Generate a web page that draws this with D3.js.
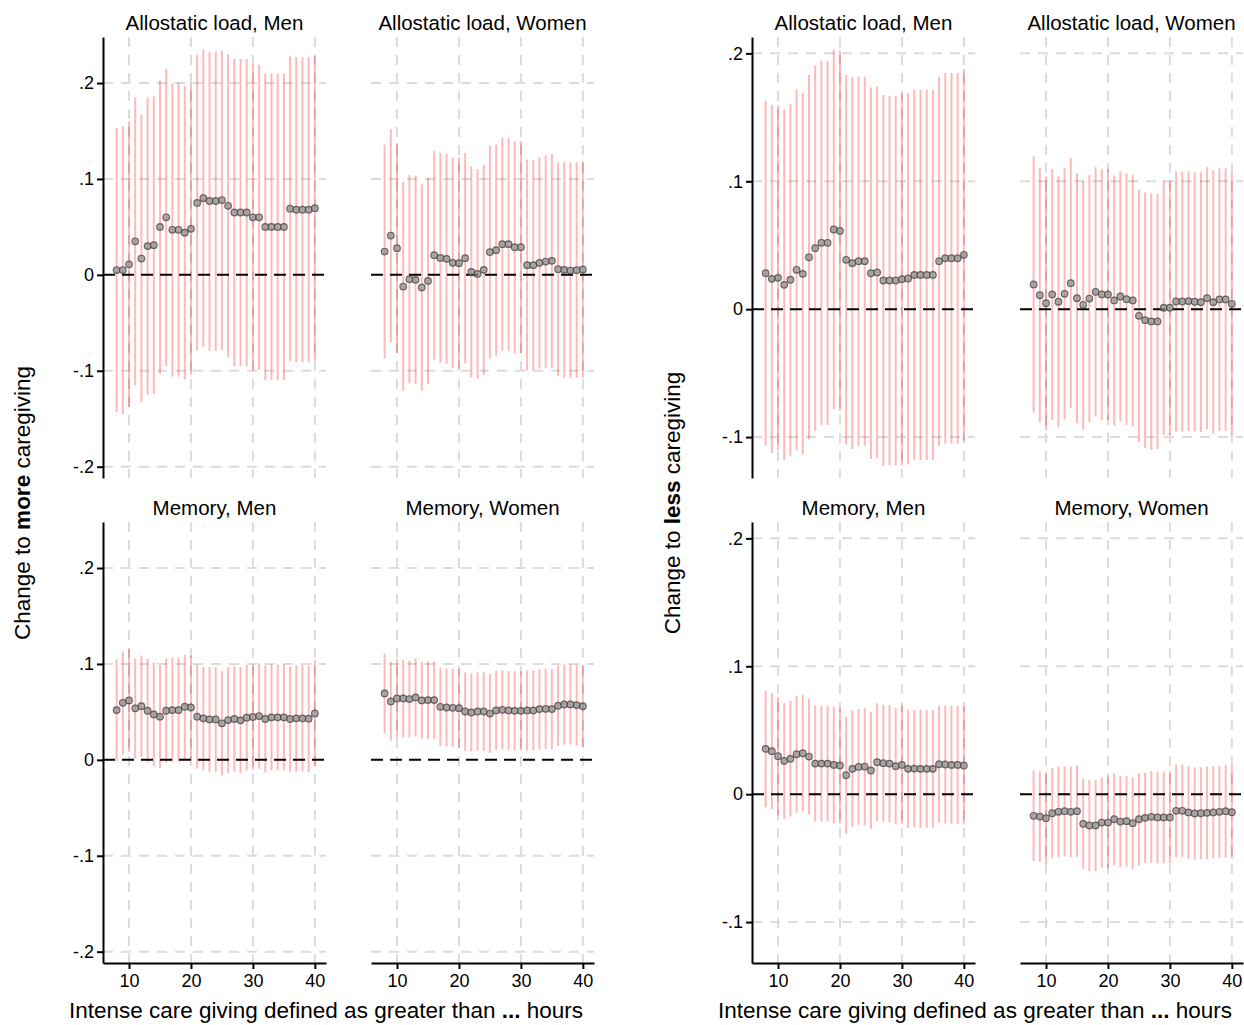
<!DOCTYPE html>
<html>
<head>
<meta charset="utf-8">
<script src="https://cdn.jsdelivr.net/npm/d3@7"></script>
<style>
  body { margin: 0; background: #fff; }
  text { font-family: "Liberation Sans", Arial, Helvetica, sans-serif; fill: #000; }
</style>
</head>
<body>
<svg id="chart" width="1244" height="1025"></svg>
<script>
const hours = [8, 9, 10, 11, 12, 13, 14, 15, 16, 17, 18, 19, 20, 21, 22, 23, 24,
  25, 26, 27, 28, 29, 30, 31, 32, 33, 34, 35, 36, 37, 38, 39, 40];

// change to more caregiving: point estimates and CI half-widths
const moreAlloMen = [0.005, 0.005, 0.011, 0.035, 0.017, 0.030, 0.031, 0.050, 0.060, 0.047, 0.047,
  0.044, 0.048, 0.075, 0.080, 0.077, 0.077, 0.078, 0.072, 0.065, 0.065, 0.065, 0.060, 0.060,
  0.050, 0.050, 0.050, 0.050, 0.069, 0.068, 0.068, 0.068, 0.0695];
const moreAlloMenCI = [0.148, 0.150, 0.149, 0.150, 0.150, 0.155, 0.155, 0.153, 0.155, 0.153, 0.153,
  0.153, 0.152, 0.154, 0.155, 0.156, 0.156, 0.156, 0.158, 0.160, 0.160, 0.160, 0.160, 0.159,
  0.160, 0.160, 0.160, 0.160, 0.159, 0.159, 0.159, 0.159, 0.159];
const moreAlloWomen = [0.0243, 0.041, 0.0278, -0.0122, -0.0045, -0.0052, -0.0132, -0.0063, 0.0205,
  0.0177, 0.0167, 0.0125, 0.0122, 0.0174, 0.0031, 0.001, 0.0052, 0.0236, 0.0257, 0.032, 0.032,
  0.0288, 0.0288, 0.0101, 0.0101, 0.0125, 0.0139, 0.0146, 0.0059, 0.0052, 0.0045, 0.0049, 0.0056];
const moreAlloWomenCI = [0.1115, 0.111, 0.1094, 0.1089, 0.1085, 0.1085, 0.1076, 0.1073, 0.1089,
  0.1094, 0.1094, 0.1097, 0.110, 0.1097, 0.110, 0.1094, 0.1097, 0.111, 0.110, 0.111, 0.111,
  0.1106, 0.1106, 0.110, 0.1097, 0.110, 0.1108, 0.1115, 0.1115, 0.1127, 0.1123, 0.1123, 0.1128];
const moreMemMen = [0.0519, 0.0595, 0.062, 0.0537, 0.056, 0.0512, 0.0474, 0.045, 0.0512, 0.0519,
  0.0519, 0.0554, 0.0547, 0.045, 0.0433, 0.0422, 0.0422, 0.0381, 0.0415, 0.0426, 0.0412, 0.044,
  0.0447, 0.0457, 0.0426, 0.0443, 0.0443, 0.0443, 0.0426, 0.0433, 0.0433, 0.0429, 0.0484];
const moreMemMenCI = [0.0528, 0.0537, 0.0537, 0.0524, 0.0528, 0.0542, 0.054, 0.0537, 0.0542,
  0.0542, 0.0542, 0.0542, 0.054, 0.0543, 0.054, 0.0545, 0.0545, 0.0545, 0.0549, 0.055, 0.0554,
  0.0549, 0.0549, 0.055, 0.0557, 0.0552, 0.0552, 0.0552, 0.0549, 0.0554, 0.0554, 0.0556, 0.0554];
const moreMemWomen = [0.0693, 0.0609, 0.0641, 0.0641, 0.0634, 0.0651, 0.062, 0.0623, 0.0623,
  0.0553, 0.0546, 0.0543, 0.0539, 0.0504, 0.0494, 0.0504, 0.0504, 0.0483, 0.0515, 0.0522, 0.0515,
  0.0511, 0.0511, 0.0515, 0.0515, 0.0529, 0.0532, 0.0529, 0.0564, 0.0578, 0.0578, 0.0571, 0.056];
const moreMemWomenCI = [0.0415, 0.041, 0.041, 0.0403, 0.040, 0.0407, 0.0403, 0.0405, 0.0405,
  0.0407, 0.0407, 0.0407, 0.0412, 0.041, 0.0408, 0.041, 0.041, 0.0412, 0.0412, 0.0412, 0.041,
  0.0414, 0.0414, 0.0417, 0.0419, 0.0419, 0.0419, 0.0419, 0.0419, 0.0419, 0.0419, 0.0422, 0.0428];

// change to less caregiving
const lessAlloMen = [0.0281, 0.0237, 0.0245, 0.019, 0.023, 0.0308, 0.0276, 0.0406, 0.0477, 0.0519,
  0.0519, 0.0623, 0.0612, 0.0386, 0.036, 0.0375, 0.0375, 0.0281, 0.0287, 0.0224, 0.0224, 0.0224,
  0.0234, 0.024, 0.0268, 0.0268, 0.0268, 0.0268, 0.0375, 0.0398, 0.0398, 0.0398, 0.0425];
const lessAlloMenCI = [0.1349, 0.1362, 0.1346, 0.137, 0.1375, 0.1409, 0.1414, 0.1424, 0.1427,
  0.1424, 0.1424, 0.1404, 0.1409, 0.1445, 0.1453, 0.1443, 0.1443, 0.1453, 0.1453, 0.145, 0.1445,
  0.1445, 0.1453, 0.1453, 0.1448, 0.1448, 0.1448, 0.1448, 0.1443, 0.1448, 0.1448, 0.1448, 0.1453];
const lessAlloWomen = [0.0193, 0.0109, 0.0047, 0.0115, 0.0058, 0.012, 0.0203, 0.0086, 0.0034,
  0.0083, 0.0136, 0.0115, 0.0115, 0.0068, 0.0099, 0.0078, 0.0068, -0.0052, -0.0086, -0.0096,
  -0.0096, 0.0011, 0.0011, 0.006, 0.006, 0.0063, 0.0058, 0.0055, 0.0086, 0.0055, 0.0076, 0.0076, 0.0042];
const lessAlloWomenCI = [0.100, 0.0995, 0.0992, 0.0982, 0.0982, 0.0982, 0.0979, 0.0977, 0.0971,
  0.0966, 0.0974, 0.0982, 0.0982, 0.0977, 0.0979, 0.0984, 0.0982, 0.0987, 0.100, 0.1003, 0.0997,
  0.0995, 0.0995, 0.1016, 0.1016, 0.1016, 0.1013, 0.1016, 0.1023, 0.1029, 0.1026, 0.1026, 0.1023];
const lessMemMen = [0.0354, 0.0336, 0.0297, 0.026, 0.0276, 0.0312, 0.032, 0.0294, 0.0239, 0.0239,
  0.0239, 0.0229, 0.0224, 0.0148, 0.0198, 0.0213, 0.0216, 0.0185, 0.025, 0.0242, 0.0239, 0.0219,
  0.0229, 0.0198, 0.02, 0.0198, 0.0198, 0.0198, 0.0234, 0.0232, 0.0229, 0.0229, 0.0224];
const lessMemMenCI = [0.0456, 0.0453, 0.0461, 0.0453, 0.0451, 0.0458, 0.0456, 0.0451, 0.0453,
  0.0453, 0.0453, 0.0456, 0.0451, 0.0458, 0.0456, 0.0453, 0.0456, 0.0456, 0.0461, 0.0458, 0.0458,
  0.0456, 0.0464, 0.0461, 0.0458, 0.0461, 0.0461, 0.0461, 0.0458, 0.0461, 0.0461, 0.0461, 0.0461];
const lessMemWomen = [-0.0169, -0.0175, -0.0188, -0.0149, -0.0138, -0.0133, -0.0138, -0.0133,
  -0.0232, -0.0245, -0.0245, -0.0222, -0.0222, -0.0196, -0.0214, -0.0211, -0.0227, -0.0196,
  -0.0185, -0.0177, -0.0182, -0.0182, -0.0182, -0.013, -0.013, -0.0143, -0.0151, -0.0149,
  -0.0146, -0.0143, -0.0138, -0.0133, -0.0141];
const lessMemWomenCI = [0.0354, 0.0354, 0.0359, 0.0352, 0.0354, 0.0354, 0.0354, 0.0357, 0.0352,
  0.0357, 0.0357, 0.0352, 0.0359, 0.0359, 0.0357, 0.0354, 0.0359, 0.0359, 0.0354, 0.0359, 0.0359,
  0.0359, 0.0359, 0.0362, 0.0362, 0.0362, 0.0362, 0.0359, 0.0362, 0.0359, 0.0359, 0.0362, 0.0362];

const subplotTitles = [['Allostatic load, Men', 'Allostatic load, Women'], ['Memory, Men', 'Memory, Women']];
const xTicks = [10, 20, 30, 40];

const panels = [
  {
    left: 103, ylabelX: 22, xTitleX: 326, bold: 'more',
    yDomain: [-0.2118, 0.248], yTicks: [-0.2, -0.1, 0, 0.1, 0.2],
    series: [[[moreAlloMen, moreAlloMenCI], [moreAlloWomen, moreAlloWomenCI]],
             [[moreMemMen, moreMemMenCI], [moreMemWomen, moreMemWomenCI]]],
  },
  {
    left: 752, ylabelX: 672, xTitleX: 975, bold: 'less',
    yDomain: [-0.132, 0.2128], yTicks: [-0.1, 0, 0.1, 0.2],
    series: [[[lessAlloMen, lessAlloMenCI], [lessAlloWomen, lessAlloWomenCI]],
             [[lessMemMen, lessMemMenCI], [lessMemWomen, lessMemWomenCI]]],
  },
];

const svg = d3.select('#chart');
const plotW = 223;
const colGap = 268;
const rows = [[37, 478], [522, 963]];
const fontFam = '"Liberation Sans", Arial, sans-serif';

// Stata style labels: .2, -.1, 0
const fmt = (d) => (d === 0 ? '0' : d3.format('.1f')(d).replace('0.', '.').replace('\u2212', '-'));

panels.forEach((p) => {
  const x0 = d3.scaleLinear().domain([5.8, 41.8]).range([0, plotW]);

  rows.forEach(([top, bottom], r) => {
    const y = d3.scaleLinear().domain(p.yDomain).range([bottom, top]);

    [0, 1].forEach((c) => {
      const left = p.left + c * colGap;
      const x = x0.copy().range([left, left + plotW]);
      const [est, ci] = p.series[r][c];
      const g = svg.append('g');

      // gridlines
      g.selectAll('line.vgrid')
        .data(xTicks)
        .enter()
        .append('line')
        .attr('x1', (d) => x(d))
        .attr('x2', (d) => x(d))
        .attr('y1', top)
        .attr('y2', bottom)
        .attr('stroke', '#dcdcdc')
        .attr('stroke-width', 2)
        .attr('stroke-dasharray', '10,8');
      g.selectAll('line.hgrid')
        .data(p.yTicks.filter((d) => d !== 0))
        .enter()
        .append('line')
        .attr('x1', left)
        .attr('x2', left + plotW)
        .attr('y1', (d) => y(d))
        .attr('y2', (d) => y(d))
        .attr('stroke', '#dcdcdc')
        .attr('stroke-width', 2)
        .attr('stroke-dasharray', '10,8');

      // confidence intervals
      g.selectAll('line.ci')
        .data(hours)
        .enter()
        .append('line')
        .attr('x1', (d) => x(d))
        .attr('x2', (d) => x(d))
        .attr('y1', (d, i) => y(est[i] - ci[i]))
        .attr('y2', (d, i) => y(est[i] + ci[i]))
        .attr('stroke', '#ff0000')
        .attr('stroke-opacity', 0.28)
        .attr('stroke-width', 2);

      // zero reference line
      g.append('line')
        .attr('x1', left)
        .attr('x2', left + plotW)
        .attr('y1', y(0))
        .attr('y2', y(0))
        .attr('stroke', '#000')
        .attr('stroke-width', 2)
        .attr('stroke-dasharray', '12,7');

      g.selectAll('circle')
        .data(hours)
        .enter()
        .append('circle')
        .attr('cx', (d) => x(d))
        .attr('cy', (d, i) => y(est[i]))
        .attr('r', 3.3)
        .attr('fill', '#8a8a8a')
        .attr('fill-opacity', 0.7)
        .attr('stroke', '#404040')
        .attr('stroke-opacity', 0.75)
        .attr('stroke-width', 1.2);

      // subplot title
      svg.append('text')
        .attr('x', left + plotW / 2)
        .attr('y', top - 7)
        .attr('text-anchor', 'middle')
        .style('font-size', '20.5px')
        .text(subplotTitles[r][c]);

      if (c === 0) {
        const ya = svg.append('g')
          .attr('transform', `translate(${left},0)`)
          .call(d3.axisLeft(y).tickValues(p.yTicks).tickFormat(fmt)
            .tickSize(6).tickSizeOuter(0).tickPadding(3));
        ya.select('.domain').attr('stroke-width', 2);
        ya.selectAll('.tick line').attr('stroke-width', 2);
        ya.selectAll('.tick text').style('font-size', '18px').style('font-family', fontFam);
      }
      if (r === 1) {
        const xa = svg.append('g')
          .attr('transform', `translate(0,${bottom})`)
          .call(d3.axisBottom(x).tickValues(xTicks).tickSize(6)
            .tickSizeOuter(0).tickPadding(5));
        xa.select('.domain').attr('stroke-width', 2);
        xa.selectAll('.tick line').attr('stroke-width', 2);
        xa.selectAll('.tick text').style('font-size', '18px').style('font-family', fontFam);
      }
    });
  });

  // y axis title with bold word
  const yt = svg.append('text')
    .attr('transform', `translate(${p.ylabelX + 8},503) rotate(-90)`)
    .attr('text-anchor', 'middle')
    .style('font-size', '22.5px');
  yt.append('tspan').text('Change to ');
  yt.append('tspan').style('font-weight', 'bold').text(p.bold);
  yt.append('tspan').text(' caregiving');

  const xt = svg.append('text')
    .attr('x', p.xTitleX)
    .attr('y', 1018)
    .attr('text-anchor', 'middle')
    .style('font-size', '22.5px');
  xt.append('tspan').text('Intense care giving defined as greater than ');
  xt.append('tspan').style('font-weight', 'bold').text('...');
  xt.append('tspan').text(' hours');
});
</script>
</body>
</html>
